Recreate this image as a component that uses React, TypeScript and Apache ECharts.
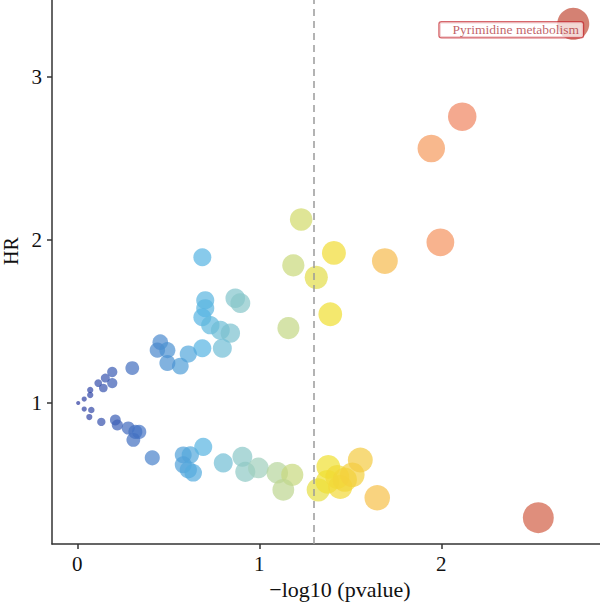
import React, { useEffect, useRef } from "react";
import * as echarts from "echarts";

// -log10(pvalue)
const pvalLog = [
  2.725, 2.115, 1.945, 1.995, 1.69, 1.41, 1.23, 1.187, 1.313, 1.39, 1.16,
  0.687, 0.868, 0.896, 0.703, 0.703, 0.687, 0.731, 0.786, 0.841, 0.797, 0.687,
  0.61, 0.566, 0.495, 0.456, 0.44, 0.495, 0.302, 0.192, 0.154, 0.115, 0.192,
  0.143, 0.071, 0.071, 0.038, 0.005,
  0.038, 0.077, 0.066, 0.132, 0.209, 0.22, 0.28, 0.319, 0.34, 0.308, 0.412,
  0.582, 0.621, 0.692, 0.582, 0.61, 0.637, 0.802, 0.907, 0.923, 0.995, 1.099,
  1.181, 1.132, 1.324, 1.379, 1.374, 1.429, 1.445, 1.47, 1.511, 1.555, 1.648,
  2.533,
];
// HR
const hr = [
  3.324, 2.755, 2.56, 1.985, 1.87, 1.92, 2.125, 1.844, 1.77, 1.544, 1.459,
  1.893, 1.642, 1.612, 1.63, 1.581, 1.526, 1.477, 1.446, 1.428, 1.336, 1.336,
  1.3, 1.226, 1.245, 1.373, 1.324, 1.324, 1.214, 1.19, 1.153, 1.122, 1.122,
  1.092, 1.08, 1.049, 1.024, 1.0,
  0.963, 0.957, 0.914, 0.884, 0.896, 0.865, 0.847, 0.823, 0.823, 0.774, 0.664,
  0.682, 0.682, 0.731, 0.621, 0.59, 0.572, 0.633, 0.67, 0.578, 0.602, 0.572,
  0.56, 0.468, 0.468, 0.609, 0.517, 0.547, 0.486, 0.53, 0.56, 0.651, 0.419,
  0.297,
];
const pathwayLabels: Record<number, string> = { 0: "Pyrimidine metabolism" };
const xTicks = [0, 1, 2];
const yTicks = [1, 2, 3];
const pThreshold = 1.3;

const FONT = "'Liberation Serif', 'DejaVu Serif', serif";

function sizeOf(x: number) {
  const k = Math.sqrt(87 + 344 * 0.3);
  if (x >= 0.3) return Math.sqrt(87 + 344 * x);
  return 4 + ((k - 4) * x) / 0.3;
}

export default function App() {
  const ref = useRef<HTMLDivElement>(null);
  useEffect(() => {
    if (!ref.current) return;
    const chart = echarts.init(ref.current, undefined, { renderer: "svg" });
    const data = pvalLog.map((x, i) => {
      const item: any = { value: [x, hr[i]] };
      if (pathwayLabels[i]) {
        item.name = pathwayLabels[i];
        item.label = {
          show: true,
          position: "inside",
          offset: [-62, 6],
          formatter: pathwayLabels[i],
          color: "#a5161d",
          fontFamily: FONT,
          fontSize: 13.5,
          backgroundColor: "#ffffff",
          borderColor: "#c4262e",
          borderWidth: 1.3,
          borderRadius: 2,
          padding: [1, 4, 0, 13],
        };
      }
      return item;
    });
    chart.setOption({
      animation: false,
      grid: {
        left: 52,
        right: 0,
        top: 0,
        bottom: 62,
        containLabel: false,
        outerBoundsMode: "none",
      },
      visualMap: {
        show: false,
        type: "continuous",
        dimension: 0,
        min: 0,
        max: 2.75,
        inRange: {
          color: [
            "#2c3a9e",
            "#4575c4",
            "#56b4e2",
            "#a8d2b8",
            "#f0e030",
            "#f8b850",
            "#f48a62",
            "#dc6a4c",
            "#c04a35",
          ],
        },
      },
      xAxis: {
        type: "value",
        min: -0.139,
        max: 2.872,
        splitLine: { show: false },
        axisLine: { onZero: false, lineStyle: { color: "#333", width: 1.5 } },
        axisTick: { customValues: xTicks, length: 5, lineStyle: { color: "#333", width: 1.5 } },
        axisLabel: {
          customValues: xTicks,
          margin: 9,
          color: "#111",
          fontFamily: FONT,
          fontSize: 21,
        },
        name: "−log10 (pvalue)",
        nameLocation: "middle",
        nameGap: 29,
        nameTextStyle: {
          color: "#111",
          fontFamily: FONT,
          fontSize: 22,
          padding: [0, 0, 0, 28],
        },
      },
      yAxis: {
        type: "value",
        min: 0.1358,
        max: 3.47,
        splitLine: { show: false },
        axisLine: { onZero: false, lineStyle: { color: "#333", width: 1.5 } },
        axisTick: { customValues: yTicks, length: 5, lineStyle: { color: "#333", width: 1.5 } },
        axisLabel: {
          customValues: yTicks,
          margin: 10,
          color: "#111",
          fontFamily: FONT,
          fontSize: 21,
        },
        name: "HR",
        nameLocation: "middle",
        nameRotate: 90,
        nameGap: 30,
        nameTextStyle: {
          color: "#111",
          fontFamily: FONT,
          fontSize: 20,
          padding: [0, 0, 0, 42],
        },
      },
      series: [
        {
          type: "scatter",
          data,
          symbolSize: (val: number[]) => sizeOf(val[0]),
          itemStyle: { opacity: 0.7 },
          markLine: {
            silent: true,
            symbol: "none",
            label: { show: false },
            lineStyle: { color: "#9a9a9a", type: [7, 5], width: 1.5 },
            data: [{ xAxis: pThreshold }],
          },
        },
      ],
    });
    return () => chart.dispose();
  }, []);
  return (
    <div
      ref={ref}
      style={{ position: "absolute", left: 0, top: 0, width: 600, height: 606 }}
    />
  );
}
